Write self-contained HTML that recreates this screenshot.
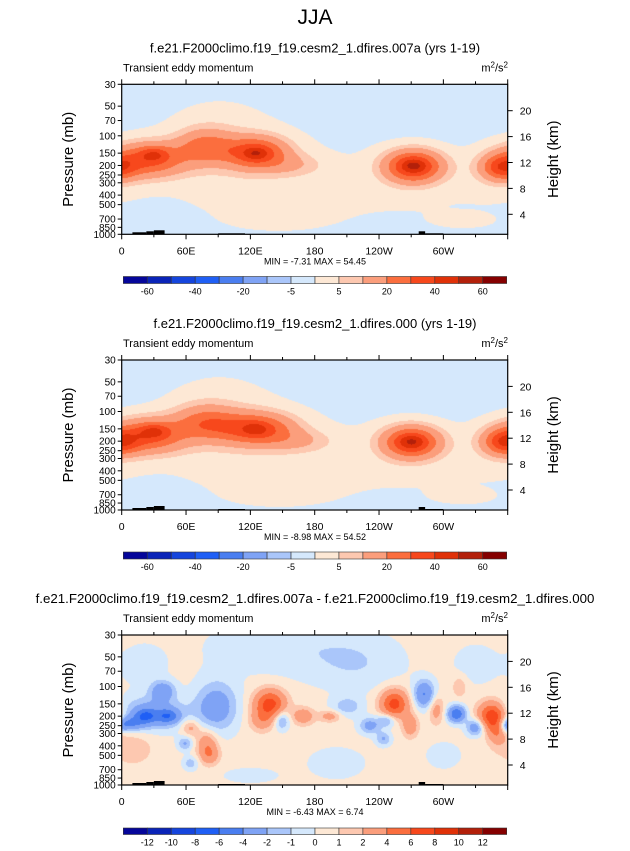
<!DOCTYPE html>
<html><head><meta charset="utf-8">
<style>
body{margin:0;background:#fff;width:630px;height:851px;overflow:hidden;font-family:"Liberation Sans",sans-serif;}
#wrap{position:relative;width:630px;height:851px;}
canvas{position:absolute;}
svg{position:absolute;left:0;top:0;}
</style></head>
<body><div id="wrap">
<canvas id="c0" width="386" height="150" style="left:122px;top:84px"></canvas>
<canvas id="c1" width="386" height="150" style="left:122px;top:360px"></canvas>
<canvas id="c2" width="386" height="150" style="left:122px;top:635px"></canvas>
<svg id="s" width="630" height="851"></svg>
</div>
<script>
// ---- data ----
const lonTickValues=[0,60,120,180,240,300];
const lonTickLabels=['0','60E','120E','180','120W','60W'];
const pressureTicks=[30,50,70,100,150,200,250,300,400,500,700,850,1000];
const heightTicks=[4,8,12,16,20];
const colors=['#05069a','#0a24b8','#1545dd','#1f5ff5','#4a7ef0','#7fa3f5','#aac6fa','#d5e8fc','#fde8d5','#fdc8b0','#fb9e7c','#fb6e3e','#f7481c','#e03108','#b3200a','#850000'];
const levelsAbs=[-60,-50,-40,-30,-20,-10,-5,0,5,10,20,30,40,50,60];
const levelLabelsAbs=['-60','-40','-20','-5','5','20','40','60'];
const levelsDiff=[-12,-10,-8,-6,-4,-2,-1,0,1,2,4,6,8,10,12];
const levelLabelsDiff=['-12','-10','-8','-6','-4','-2','-1','0','1','2','4','6','8','10','12'];
// blobs: [lon, pressure, amplitude, sigmaLon, sigmaLog10P]
const blobs1=[[110,220,4.5,60,0.3],[90,90,3.5,35,0.25],[270,280,3.5,45,0.25],[350,260,3,25,0.2],[170,450,2.5,45,0.12],[150,750,2.3,45,0.1],[320,750,2.3,30,0.08],
[25,175,32,24,0.12],[30,155,14,9,0.05],[78,130,22,18,0.12],[125,150,36,20,0.11],[125,152,12,7,0.04],[160,200,8,20,0.08],
[272,205,44,18,0.11],[272,202,10,7,0.04],[354,212,30,13,0.09]];
const blobs2=[[110,220,4.5,65,0.3],[90,90,3.5,35,0.25],[270,280,3.5,45,0.25],[350,260,3,25,0.2],[170,450,2.5,45,0.12],[150,750,2.3,45,0.1],[320,750,2.3,30,0.08],
[25,175,32,24,0.12],[30,158,14,9,0.05],[78,130,22,20,0.12],[125,150,34,24,0.11],[125,152,11,7,0.04],[165,200,9,22,0.08],
[270,205,42,18,0.11],[270,202,10,7,0.04],[356,205,30,13,0.09]];
const blobs3=[[28,190,-3.5,22,0.12],[22,200,-4,7,0.05],[43,200,-4,7,0.05],[38,110,-3.5,8,0.07],[5,240,-4,10,0.05],
[88,160,-3.5,14,0.18],[138,150,6.5,10,0.1],[130,220,2.5,8,0.08],[169,200,3,7,0.06],[194,200,2.5,7,0.04],[149,220,-3,5,0.07],
[64,260,2.5,6,0.06],[79,380,3,7,0.1],[82,500,2.5,6,0.07],[59,380,-2.5,5,0.05],[64,600,-2,5,0.05],
[231,250,-3,7,0.06],[247,220,-3,6,0.05],[244,340,-2.5,5,0.05],[210,160,-2,10,0.07],
[254,150,6.5,9,0.1],[269,250,3,5,0.08],[282,120,-4.5,7,0.1],[293,170,2.5,5,0.1],[312,190,-6,6,0.06],[315,100,1.5,5,0.08],
[330,260,-4,6,0.06],[345,200,7,9,0.1],[350,280,3,6,0.1],[358,260,-2,4,0.05],
[150,40,-1.2,50,0.2],[220,60,-1.2,30,0.2],[20,60,-1.0,15,0.15],[200,600,-1.0,20,0.12],[120,800,-0.9,20,0.06],[300,500,-1.0,12,0.1],[10,400,1.2,15,0.15],[330,60,-1.0,15,0.15]];
const panels=[{top:84.3,title:'f.e21.F2000climo.f19_f19.cesm2_1.dfires.007a (yrs 1-19)',blobs:blobs1,base:-2,levels:levelsAbs,labs:levelLabelsAbs,labIdx:[0,2,4,6,8,10,12,14],minmax:'MIN = -7.31  MAX = 54.45',cb:276.5,ch:7,titleSize:13},
{top:360,title:'f.e21.F2000climo.f19_f19.cesm2_1.dfires.000 (yrs 1-19)',blobs:blobs2,base:-2,levels:levelsAbs,labs:levelLabelsAbs,labIdx:[0,2,4,6,8,10,12,14],minmax:'MIN = -8.98  MAX = 54.52',cb:552,ch:7,titleSize:13},
{top:635,title:'f.e21.F2000climo.f19_f19.cesm2_1.dfires.007a - f.e21.F2000climo.f19_f19.cesm2_1.dfires.000',blobs:blobs3,base:0.4,levels:levelsDiff,labs:levelLabelsDiff,labIdx:[0,1,2,3,4,5,6,7,8,9,10,11,12,13,14],minmax:'MIN = -6.43  MAX = 6.74',cb:828,ch:6.5,titleSize:13.3}];
// ---- axes ----
const X0=121.7,X1=507.7,H=150;
const xOf=lon=>X0+(lon/360)*(X1-X0);
const yOfP=(top,p)=>top+(Math.log10(p/30)/Math.log10(1000/30))*H;
const yOfK=(top,k)=>top+130-(k-4)*6.475;
function hex(c){return [parseInt(c.substr(1,2),16),parseInt(c.substr(3,2),16),parseInt(c.substr(5,2),16)];}
const rgb=colors.map(hex);
function field(bl,base,lon,lp){let v=base;for(const b of bl){let d=Math.abs(lon-b[0]);if(d>180)d=360-d;const dl=lp-Math.log10(b[1]);v+=b[2]*Math.exp(-(d*d)/(2*b[3]*b[3])-(dl*dl)/(2*b[4]*b[4]));}return v;}
panels.forEach((P,i)=>{
 const cv=document.getElementById('c'+i);const ctx=cv.getContext('2d');const img=ctx.createImageData(386,150);
 for(let y=0;y<150;y++){const lp=Math.log10(30)+(y+0.5)/150*Math.log10(1000/30);
  for(let x=0;x<386;x++){const lon=(x+0.5)/386*360;const v=field(P.blobs,P.base,lon,lp);
   let k=0;while(k<P.levels.length&&v>=P.levels[k])k++;const c=rgb[k];const o=(y*386+x)*4;
   img.data[o]=c[0];img.data[o+1]=c[1];img.data[o+2]=c[2];img.data[o+3]=255;}}
 ctx.putImageData(img,0,0);
});
const S=document.getElementById('s');const NS='http://www.w3.org/2000/svg';
function el(t,a,txt){const e=document.createElementNS(NS,t);for(const k in a)e.setAttribute(k,a[k]);if(txt!==undefined)e.textContent=txt;S.appendChild(e);return e;}
let e=el('text',{x:315,y:24,'font-size':21,'text-anchor':'middle'},'JJA');

panels.forEach((P,i)=>{
 const t=P.top,b=t+H;
 e=el('text',{x:315,y:t-32,'font-size':P.titleSize,'text-anchor':'middle'},P.title);
 
 e=el('text',{x:123,y:t-13,'font-size':11},'Transient eddy momentum');
 
 e=el('text',{x:508,y:t-13,'font-size':11,'text-anchor':'end'});e.innerHTML='m<tspan dy="-4" font-size="8">2</tspan><tspan dy="4">/s</tspan><tspan dy="-4" font-size="8">2</tspan>';
 
 [[10,23,2],[23,30,3],[30,40,4],[90,115,1],[277,283,3],[283,300,1]].forEach(r=>{e=el('rect',{x:xOf(r[0]),y:b-r[2],width:xOf(r[1])-xOf(r[0]),height:r[2],fill:'#000'});
  });
 e=el('rect',{x:X0,y:t,width:X1-X0,height:H,fill:'none',stroke:'#000','stroke-width':1.2});
 
 for(let lon=0;lon<=360;lon+=30){const x=xOf(lon),L=lon%60===0?5:3;
  el('line',{x1:x,x2:x,y1:t,y2:t-L,stroke:'#000'});el('line',{x1:x,x2:x,y1:b,y2:b+L,stroke:'#000'});}
 lonTickValues.forEach((v,j)=>{e=el('text',{x:xOf(v),y:b+20,'font-size':10.5,'text-anchor':'middle'},lonTickLabels[j]);
  });
 pressureTicks.forEach(p=>{const y=yOfP(t,p);el('line',{x1:X0,x2:X0-4,y1:y,y2:y,stroke:'#000'});
  e=el('text',{x:X0-6,y:y+3.5,'font-size':10,'text-anchor':'end'},String(p));
  });
 heightTicks.forEach(k=>{const y=yOfK(t,k);el('line',{x1:X1,x2:X1+5,y1:y,y2:y,stroke:'#000'});
  e=el('text',{x:X1+12,y:y+4,'font-size':10.5},String(k));
  });
 e=el('text',{x:0,y:0,'font-size':15,'text-anchor':'middle',transform:`translate(73 ${t+75}) rotate(-90)`},'Pressure (mb)');
 
 e=el('text',{x:0,y:0,'font-size':15,'text-anchor':'middle',transform:`translate(558 ${t+75}) rotate(-90)`},'Height (km)');
 
 e=el('text',{x:315,y:b+30,'font-size':9,'text-anchor':'middle'},P.minmax);
 
 const cx0=123.3,cx1=506.7,w=(cx1-cx0)/16;
 colors.forEach((c,j)=>{e=el('rect',{x:cx0+j*w,y:P.cb,width:w,height:P.ch,fill:c,stroke:'#333','stroke-width':0.6});
  });
 P.labIdx.forEach((bi,j)=>{e=el('text',{x:cx0+(bi+1)*w,y:P.cb+P.ch+11,'font-size':9,'text-anchor':'middle'},P.labs[j]);
  });
});
</script></body></html>
